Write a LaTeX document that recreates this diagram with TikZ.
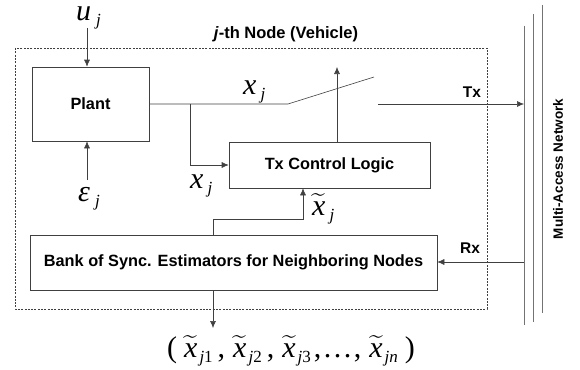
\documentclass[tikz,border=0pt]{standalone}
\usepackage{fix-cm}
\usepackage{exscale}
\usepackage{fontspec}
\setmainfont{Liberation Sans}
\newfontfamily\tnr{Liberation Serif}
\usetikzlibrary{arrows.meta}

% italic Times-style variable with a lowered, spaced subscript
\newcommand\bigvar[1]{{\tnr\itshape\fontsize{30}{30}\selectfont #1}}
\newcommand\lowsub[2][3pt]{\kern#1\raisebox{-5pt}{\tnr\fontsize{17}{17}\selectfont #2}}
% x with a wide tilde (math accent set at a large math size)
\newcommand\tvar{{\fontsize{24}{24}\selectfont\ensuremath{\widetilde{\hbox{\bigvar{x}}}}}}
\newcommand\tcomma{\kern5pt\bigvar{\upshape ,}\kern8pt}

\begin{document}
\begin{tikzpicture}[x=1pt,y=-1pt,
  wire/.style={draw=black!75,line width=0.6pt},
  arr/.style={wire,-{Latex[length=7pt,width=6pt]}},
  block/.style={draw=black!75,line width=0.6pt,rectangle,inner sep=0pt,
    font=\fontsize{16.3}{16.3}\selectfont\bfseries},
  lbl/.style={font=\fontsize{15.5}{15.5}\selectfont\bfseries,inner sep=0pt},
  mathlbl/.style={inner sep=0pt,anchor=base west},
  net/.style={draw=black!55,line width=0.8pt}]
\useasboundingbox (0,0) rectangle (580,369);

% enclosure of the node
\draw[black!75,line width=0.5pt,dash pattern=on 2pt off 1.3pt] (15,48) rectangle (487,309);
\node[lbl,font=\fontsize{16.5}{16.5}\selectfont\bfseries] (title) at (286,34) {\textit{j}-th Node (Vehicle)};

% blocks
\node[block,minimum width=117pt,minimum height=74pt] (plant) at (90.5,104) {Plant};
\node[block,minimum width=201pt,minimum height=46pt] (txl) at (329.5,165) {Tx Control Logic};
\node[block,minimum width=407pt,minimum height=55pt] (bank) at (233.5,262.5)
  {Bank of Sync. Estimators for Neighboring Nodes};

% network bus
\coordinate (n1t) at (524,26); \coordinate (n1b) at (524,325);
\coordinate (n2t) at (533,14); \coordinate (n2b) at (533,322);
\coordinate (n3t) at (542,5);  \coordinate (n3b) at (542,313);
\draw[net] (n1t) -- (n1b);
\draw[net] (n2t) -- (n2b);
\draw[net] (n3t) -- (n3b);
\node[lbl,rotate=90,font=\fontsize{13.5}{13.5}\selectfont\bfseries] (netlbl) at (558,169) {Multi-Access Network};

% plant inputs
\coordinate (uin) at (87,28);
\coordinate (ein) at (87,180);
\draw[arr] (uin) -- (uin |- plant.north);
\draw[arr] (ein) -- (ein |- plant.south);
\node[mathlbl] (ulbl) at (76,21) {\bigvar{u}\lowsub[5pt]{\itshape j}};
\node[mathlbl] (elbl) at (78,201) {\bigvar{ε}\lowsub[5pt]{\itshape j}};

% plant output, switch and transmit path
\coordinate (sw) at (288,104);
\coordinate (blade) at (374,77);
\coordinate (br) at (190,104);
\coordinate (txs) at (378,104);
\draw[wire] (plant.east |- sw) -- (sw) -- (blade);
\draw[arr] (br) |- (txl.west);
\node[mathlbl] (xlbl1) at (243,94) {\bigvar{x}\lowsub[4pt]{\itshape j}};
\node[mathlbl] (xlbl2) at (190,188) {\bigvar{x}\lowsub[4pt]{\itshape j}};
\coordinate (ctl) at (337,67);
\draw[arr] (txl.north -| ctl) -- (ctl);
\draw[arr] (txs) -- (txs -| n1t);
\node[lbl] (txlbl) at (472,92) {Tx};

% receive path
\coordinate (rxs) at (524,262);
\draw[arr] (rxs) -- (bank.east |- rxs);
\node[lbl] (rxlbl) at (470,248) {Rx};

% estimate fed back to control logic
\coordinate (fb1) at (213,219);
\coordinate (fb2) at (303,219);
\draw[arr] (bank.north -| fb1) -- (fb1) -- (fb2) -- (fb2 |- txl.south);
\node[mathlbl] (xtlbl) at (312,215) {\tvar\lowsub[4pt]{\itshape j}};

% estimator outputs
\coordinate (out) at (213,328);
\draw[arr] (bank.south -| out) -- (out);
\node[inner sep=0pt,anchor=base west] (tuple) at (167,357)
  {\bigvar{\upshape(}\kern7pt\tvar\lowsub[2pt]{\itshape j\upshape 1}\tcomma
   \tvar\lowsub[2pt]{\itshape j\upshape 2}\tcomma
   \tvar\lowsub[2pt]{\itshape j\upshape 3}\kern3pt%
   \bigvar{\upshape ,\kern2.5pt.\kern2.5pt.\kern2.5pt.\kern2.5pt,}\kern8pt
   \tvar\lowsub[2pt]{\itshape jn}\kern7pt\bigvar{\upshape)}};
\end{tikzpicture}
\end{document}
